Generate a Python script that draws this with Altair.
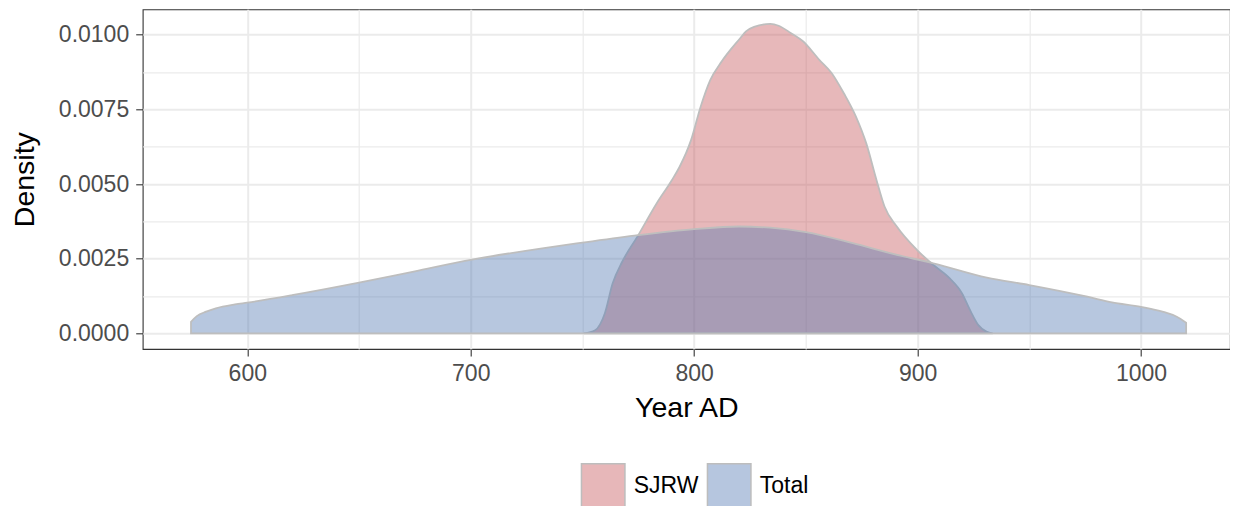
import altair as alt
import pandas as pd

# ---- data ----
groups = ["SJRW", "Total"]
colors = ["#C44E52", "#4C72B0"]

sjrw_year = [750.6, 755.7, 760.0, 763.5, 767.8, 774.6, 783.2, 790.0, 793.5, 798.6,
             802.9, 807.2, 812.3, 820.6, 823.2, 826.8, 834.1, 837.8, 843.2, 848.7,
             856.0, 861.5, 867.0, 872.4, 877.0, 881.6, 885.2, 890.7, 899.8, 907.1,
             914.4, 919.9, 923.5, 927.2, 930.8, 933.6]
sjrw_density = [0.0, 0.00011, 0.00067, 0.00167, 0.0024, 0.00324, 0.00435, 0.00513, 0.00558, 0.00647,
                0.00759, 0.00848, 0.0091, 0.00988, 0.01011, 0.01026, 0.01036, 0.0103, 0.01006, 0.00978,
                0.00916, 0.00872, 0.00804, 0.00726, 0.00637, 0.00514, 0.00425, 0.00358, 0.00279, 0.00229,
                0.00184, 0.00134, 0.00078, 0.00028, 0.00006, 0.0]

total_year = [574.8, 577.4, 581.6, 585.9, 594.5, 600.0, 620.0, 650.0, 675.0, 700.0,
              732.0, 750.0, 775.0, 800.0, 820.0, 834.0, 850.0, 871.0, 889.0, 907.0,
              931.0, 950.0, 976.0, 987.0, 1000.0, 1010.0, 1016.0, 1020.2]
total_density = [0.00039, 0.00058, 0.00073, 0.00084, 0.00097, 0.00103, 0.00128, 0.0017, 0.00208, 0.00246,
                 0.00285, 0.00304, 0.00329, 0.00349, 0.00358, 0.00354, 0.00339, 0.00302, 0.00266, 0.00235,
                 0.00187, 0.00162, 0.00123, 0.00104, 0.00089, 0.00072, 0.00056, 0.00036]

x_major = [600, 700, 800, 900, 1000]
x_minor = [650, 750, 850, 950]
y_major = [0.0, 0.0025, 0.005, 0.0075, 0.01]
y_minor = [0.00125, 0.00375, 0.00625, 0.00875]

x_domain = [553.18, 1039.83]
y_domain = [-0.00052, 0.01085]

df = pd.concat([
    pd.DataFrame({"year": sjrw_year, "density": sjrw_density, "group": groups[0]}),
    pd.DataFrame({"year": total_year, "density": total_density, "group": groups[1]}),
], ignore_index=True)

FONT = "Liberation Sans"


def major_test(vals):
    return "indexof([" + ",".join(repr(float(v)) for v in vals) + "], datum.value) >= 0"


x_test = major_test(x_major)
y_test = major_test(y_major)

x_axis = alt.Axis(
    values=sorted(x_major + x_minor),
    format="d",
    labelExpr=f"({x_test}) ? datum.label : ''",
    labelPadding=6,
    tickOpacity={"condition": {"test": x_test, "value": 1}, "value": 0},
    gridWidth={"condition": {"test": x_test, "value": 2}, "value": 1.2},
    titleY=67.4,
    titleBaseline="alphabetic",
)
y_axis = alt.Axis(
    values=sorted(y_major + y_minor),
    format=".4f",
    labelExpr=f"({y_test}) ? datum.label : ''",
    labelPadding=7,
    tickOpacity={"condition": {"test": y_test, "value": 1}, "value": 0},
    gridWidth={"condition": {"test": y_test, "value": 2}, "value": 1.2},
    titleX=-109.4,
    titleBaseline="alphabetic",
)

chart = alt.Chart(df).mark_area(
    interpolate="monotone",
    fillOpacity=0.4,
    stroke="#BEBEBE",
    strokeWidth=1.8,
).encode(
    x=alt.X("year:Q", title="Year AD",
            scale=alt.Scale(domain=x_domain, nice=False, zero=False), axis=x_axis),
    y=alt.Y("density:Q", title="Density", stack=None,
            scale=alt.Scale(domain=y_domain, nice=False, zero=False), axis=y_axis),
    color=alt.Color("group:N", scale=alt.Scale(domain=groups, range=colors),
                    legend=alt.Legend(
                        title=None, orient="none", direction="horizontal",
                        legendX=438, legendY=453.4,
                        symbolType="square", symbolSize=1892,
                        symbolStrokeColor="#5C5C5C", symbolStrokeWidth=1.5,
                        symbolOpacity=0.4,
                        labelFont=FONT, labelFontSize=23, labelColor="#000000",
                        labelOffset=8, columnPadding=5, padding=0,
                    )),
).properties(
    width=1087.3,
    height=339.7,
    autosize=alt.AutoSizeParams(type="none"),
    padding={"left": 134.7, "top": 1.3, "right": 0, "bottom": 157},
).configure_view(
    stroke="#333333", strokeWidth=1.1,
).configure_axis(
    labelFont=FONT, labelFontSize=23, labelColor="#4D4D4D",
    titleFont=FONT, titleFontSize=28.5, titleColor="#000000", titleFontWeight="normal",
    tickColor="#333333", tickWidth=1.1, tickSize=7,
    gridColor="#EBEBEB", domain=False,
)

chart.save("out.html", embed_options={"renderer": "svg", "actions": False})
